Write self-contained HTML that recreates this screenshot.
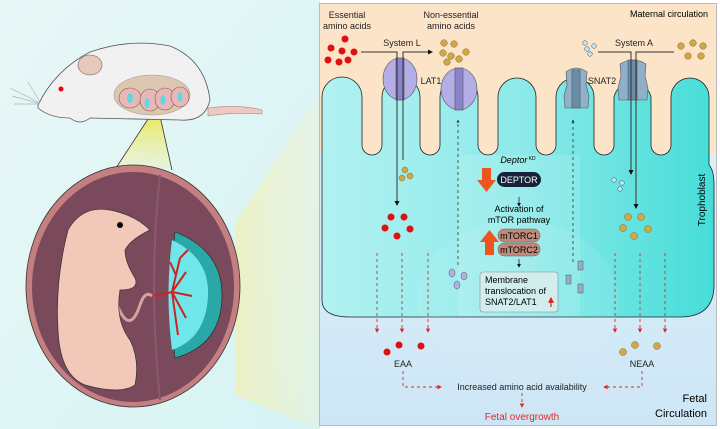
<!DOCTYPE html>
<html><head><meta charset="utf-8"><style>
html,body{margin:0;padding:0;background:#fff}
svg{display:block;font-family:"Liberation Sans",Arial,sans-serif}
</style></head><body>
<svg width="720" height="429" viewBox="0 0 720 429" xmlns="http://www.w3.org/2000/svg">
<defs>
<linearGradient id="lbg" x1="0" y1="0" x2="1" y2="1"><stop offset="0" stop-color="#e9f7f7"/><stop offset="1" stop-color="#d6f3f3"/></linearGradient>
<linearGradient id="beam" x1="0" y1="0" x2="1" y2="0"><stop offset="0" stop-color="#f0f0b8" stop-opacity=".8"/><stop offset="1" stop-color="#f2f0d0" stop-opacity=".35"/></linearGradient>
<linearGradient id="cone" x1="0" y1="0" x2="0" y2="1"><stop offset="0" stop-color="#e8e860"/><stop offset="1" stop-color="#f0f0b0" stop-opacity=".4"/></linearGradient>
<linearGradient id="tro" x1="0" y1="0" x2="1" y2="0"><stop offset="0" stop-color="#b2f1f1"/><stop offset=".5" stop-color="#8eeaea"/><stop offset="1" stop-color="#45ddd8"/></linearGradient>
<linearGradient id="fet" x1="0" y1="0" x2="0" y2="1"><stop offset="0" stop-color="#e6f4fb"/><stop offset="1" stop-color="#cde6f6"/></linearGradient>
<marker id="ab" viewBox="0 0 10 10" refX="8" refY="5" markerWidth="5" markerHeight="5" orient="auto"><path d="M0,0L10,5L0,10z" fill="#111"/></marker>
<marker id="ar" viewBox="0 0 10 10" refX="8" refY="5" markerWidth="5" markerHeight="5" orient="auto"><path d="M0,0L10,5L0,10z" fill="#e02020"/></marker>
<marker id="ad" viewBox="0 0 10 10" refX="8" refY="5" markerWidth="4" markerHeight="4" orient="auto"><path d="M0,0L10,5L0,10z" fill="#333"/></marker>
</defs>
<rect x="0" y="0" width="320" height="429" fill="url(#lbg)"/>
<polygon points="236,222 319,95 319,429 236,395" fill="url(#beam)"/>
<polygon points="150,116 160,116 172,168 116,168" fill="url(#cone)"/>
<line x1="150" y1="116" x2="116" y2="168" stroke="#333" stroke-width=".8"/>
<line x1="160" y1="116" x2="172" y2="170" stroke="#333" stroke-width=".8"/>
<path d="M208,108 Q240,104 262,110 L262,114 Q235,112 208,116z" fill="#efc8c0" stroke="#a88" stroke-width=".6"/>
<path d="M38,105 Q55,70 90,52 Q130,38 170,46 Q205,60 210,100 Q205,122 180,120 L90,118 Q80,126 70,118 Q50,118 38,108z" fill="#f1f1f1" stroke="#555" stroke-width=".8"/>
<ellipse cx="90" cy="65" rx="12" ry="10" fill="#e8c8b8" stroke="#666" stroke-width=".6"/>
<circle cx="61" cy="89" r="2.5" fill="#e00"/>
<g stroke="#777" stroke-width=".4"><line x1="38" y1="102" x2="10" y2="88"/><line x1="38" y1="103" x2="12" y2="96"/><line x1="38" y1="104" x2="14" y2="104"/><line x1="40" y1="102" x2="28" y2="82"/></g>
<ellipse cx="152" cy="95" rx="38" ry="20" fill="#dcc8b0" stroke="#a99" stroke-width=".6"/>
<g fill="#e8b8b8" stroke="#855" stroke-width=".6"><ellipse cx="130" cy="98" rx="11" ry="10"/><ellipse cx="150" cy="100" rx="10" ry="11"/><ellipse cx="165" cy="99" rx="10" ry="11"/><ellipse cx="180" cy="97" rx="9" ry="10"/></g>
<g fill="#5fd8e0"><ellipse cx="130" cy="98" rx="3" ry="5"/><ellipse cx="147" cy="103" rx="2.5" ry="5"/><ellipse cx="163" cy="100" rx="2.5" ry="5"/><ellipse cx="180" cy="97" rx="2.5" ry="5"/></g>
<ellipse cx="133" cy="286" rx="107" ry="121" fill="#c47f80" stroke="#333" stroke-width=".8"/>
<ellipse cx="133" cy="287" rx="101" ry="115" fill="#7a4a5c"/>
<path d="M160,175 Q148,286 160,400" stroke="#8a5a6c" stroke-width="2" fill="none"/>
<path d="M175,232 Q222,250 222,295 Q222,345 175,358 Q168,295 175,232z" fill="#2aa8a8" stroke="#222" stroke-width=".6"/>
<path d="M172,240 Q210,258 208,296 Q206,338 172,350 Q165,295 172,240z" fill="#6ee6ea"/>
<g stroke="#d42020" stroke-width="2" fill="none"><path d="M150,296 Q165,294 172,292 L180,258 M172,292 L186,272 M172,292 L192,296 M172,292 L186,318 M172,292 L178,335 M180,258 L188,250 M176,275 L170,262"/></g>
<path d="M118,307 Q130,335 140,305 Q145,290 152,296" stroke="#d8a0a0" stroke-width="3" fill="none"/>
<path d="M68,230 Q82,205 110,210 Q135,215 150,230 Q130,240 125,250 Q125,262 135,278 Q140,290 120,290 Q115,320 130,340 Q140,360 135,385 Q120,395 85,385 Q60,375 58,330 Q55,280 68,230z" fill="#f2c9b8" stroke="#333" stroke-width=".7"/>
<circle cx="120" cy="225" r="3" fill="#000"/>
<rect x="319.5" y="3.5" width="397" height="422" fill="url(#fet)" stroke="#bbb"/>
<rect x="320" y="4" width="396" height="150" fill="#fbe4c8"/>
<path d="M322,300 L322,97 A19,19 0 0 1 362,97 L362,145 A10,10 0 0 0 382,145 L382,97 A19,19 0 0 1 420,97 L420,145 A10,10 0 0 0 440,145 L440,97 A19,19 0 0 1 478,97 L478,145 A10,10 0 0 0 498,145 L498,97 A19,19 0 0 1 536,97 L536,145 A10,10 0 0 0 556,145 L556,97 A19,19 0 0 1 594,97 L594,145 A10,10 0 0 0 614,145 L614,97 A19,19 0 0 1 651,97 L651,145 A10,10 0 0 0 671,145 L671,97 A19,19 0 0 1 709,97 L709,165 Q714,170 714,185 L714,285 Q714,317 680,317 L350,317 Q322,317 322,300z" fill="url(#tro)" stroke="#222" stroke-width=".8"/>
<rect x="458" y="155" width="122" height="161" fill="#ffffff" opacity=".12"/>
<ellipse cx="518" cy="300" rx="100" ry="80" fill="#ffffff" opacity=".08"/>
<g stroke="#555" stroke-width=".6">
<ellipse cx="400" cy="79" rx="17" ry="21" fill="#b3aee6"/><rect x="396" y="58" width="8" height="42" fill="#8b82cc"/>
<ellipse cx="459" cy="89" rx="18" ry="21" fill="#b3aee6"/><rect x="455" y="68" width="8" height="42" fill="#8b82cc"/>
<path d="M566,72 Q576,64 587,72 L586,85 L589,96 L588,108 L565,108 L564,96 L567,85z" fill="#8fb0c8"/><rect x="572" y="70" width="8" height="38" fill="#6a8ca8"/>
<path d="M620,64 Q633,56 646,64 L645,76 L648,88 L647,100 L619,100 L618,88 L621,76z" fill="#8fb0c8"/><rect x="628" y="60" width="9" height="40" fill="#6a8ca8"/>
</g>
<g stroke="#333" stroke-width="1" fill="none">
<path d="M361,52 L397,52 L397,205" marker-end="url(#ab)"/>
<path d="M403,160 L403,52 L432,52" marker-end="url(#ab)"/>
<path d="M674,52 L636,52 L636,208" marker-end="url(#ab)"/>
<path d="M598,52 L631,52 L631,174" marker-end="url(#ab)"/>
</g>
<g stroke="#333" stroke-width=".8" stroke-dasharray="3,3" fill="none">
<path d="M458,265 L458,120" marker-end="url(#ad)"/><path d="M573,262 L573,120" marker-end="url(#ad)"/>
</g>
<g fill="#e01010"><circle cx="345" cy="39" r="3.5"/><circle cx="331" cy="48" r="3.5"/><circle cx="342" cy="51" r="3.5"/><circle cx="354" cy="52" r="3.5"/><circle cx="328" cy="60" r="3.5"/><circle cx="339" cy="62" r="3.5"/><circle cx="348" cy="60" r="3.5"/>
<circle cx="391" cy="217" r="3.5"/><circle cx="404" cy="217" r="3.5"/><circle cx="385" cy="228" r="3.5"/><circle cx="397" cy="236" r="3.5"/><circle cx="410" cy="229" r="3.5"/>
<circle cx="387" cy="352" r="3.5"/><circle cx="399" cy="345" r="3.5"/><circle cx="421" cy="346" r="3.5"/></g>
<g fill="#cfa84a" stroke="#8a6a20" stroke-width=".5"><circle cx="444" cy="43" r="3.3"/><circle cx="454" cy="44" r="3.3"/><circle cx="443" cy="53" r="3.3"/><circle cx="466" cy="52" r="3.3"/><circle cx="451" cy="56" r="3.3"/><circle cx="447" cy="62" r="3.3"/><circle cx="459" cy="59" r="3.3"/>
<circle cx="681" cy="46" r="3.3"/><circle cx="693" cy="43" r="3.3"/><circle cx="703" cy="46" r="3.3"/><circle cx="688" cy="56" r="3.3"/><circle cx="701" cy="56" r="3.3"/>
<circle cx="405" cy="170" r="3"/><circle cx="402" cy="178" r="3"/><circle cx="410" cy="176" r="3"/>
<circle cx="628" cy="217" r="3.5"/><circle cx="641" cy="217" r="3.5"/><circle cx="623" cy="228" r="3.5"/><circle cx="634" cy="236" r="3.5"/><circle cx="648" cy="229" r="3.5"/>
<circle cx="623" cy="352" r="3.5"/><circle cx="635" cy="345" r="3.5"/><circle cx="657" cy="346" r="3.5"/></g>
<g fill="#bfe4f4" stroke="#356" stroke-width=".5"><circle cx="585" cy="43" r="2.3"/><circle cx="587" cy="49" r="2.3"/><circle cx="594" cy="46" r="2.3"/><circle cx="590" cy="54" r="2.3"/>
<circle cx="614" cy="180" r="2.3"/><circle cx="622" cy="183" r="2.3"/><circle cx="620" cy="189" r="2.3"/></g>
<g fill="#b3aee6" stroke="#555" stroke-width=".5"><ellipse cx="452" cy="273" rx="3" ry="4"/><ellipse cx="464" cy="276" rx="3" ry="4"/><ellipse cx="457" cy="285" rx="3" ry="4"/></g>
<g fill="#8fb0c8" stroke="#555" stroke-width=".5"><rect x="566" y="275" width="5" height="9"/><rect x="578" y="261" width="5" height="9"/><rect x="578" y="284" width="5" height="9"/></g>
<text x="518" y="163" font-size="9" text-anchor="middle"><tspan font-style="italic">Deptor</tspan><tspan font-size="5" dy="-3"> KD</tspan></text>
<rect x="497" y="172" width="44" height="15" rx="7.5" fill="#14233a"/>
<text x="519" y="183" font-size="9" fill="#fff" text-anchor="middle">DEPTOR</text>
<path d="M482,168 L491,168 L491,180 L496,180 L486.5,192 L477,180 L482,180z" fill="#ec5420"/>
<line x1="519" y1="197" x2="519" y2="206" stroke="#222" stroke-width=".8" marker-end="url(#ab)"/>
<text x="519" y="212" font-size="9" text-anchor="middle">Activation of</text>
<text x="519" y="223" font-size="9" text-anchor="middle">mTOR pathway</text>
<rect x="498" y="229" width="42" height="13" rx="6" fill="#c08a7a" stroke="#665" stroke-width=".5"/>
<rect x="498" y="243" width="42" height="13" rx="6" fill="#c08a7a" stroke="#665" stroke-width=".5"/>
<text x="519" y="239" font-size="9" text-anchor="middle">mTORC1</text>
<text x="519" y="253" font-size="9" text-anchor="middle">mTORC2</text>
<path d="M485,255 L494,255 L494,242 L499,242 L489.5,230 L480,242 L485,242z" fill="#ec5420"/>
<line x1="519" y1="259" x2="519" y2="267" stroke="#222" stroke-width=".8" marker-end="url(#ab)"/>
<rect x="480" y="272" width="78" height="40" rx="3" fill="#d2eeec" stroke="#889" stroke-width=".6"/>
<text font-size="9" x="485"><tspan y="283">Membrane</tspan><tspan x="485" y="294">translocation of</tspan><tspan x="485" y="305">SNAT2/LAT1</tspan></text>
<line x1="551" y1="307" x2="551" y2="298" stroke="#d02020" stroke-width="1.2" marker-end="url(#ar)"/>
<g font-size="9" fill="#222" text-anchor="middle">
<text x="347" y="18">Essential</text><text x="347" y="29">amino acids</text>
<text x="451" y="18">Non-essential</text><text x="451" y="29">amino acids</text>
<text x="402" y="46">System L</text><text x="431" y="84">LAT1</text>
<text x="634" y="46">System A</text><text x="602" y="84">SNAT2</text>
<text x="403" y="367">EAA</text><text x="642" y="367">NEAA</text>
<text x="522" y="390">Increased amino acid availability</text>
</g>
<text x="708" y="17" font-size="9" text-anchor="end">Maternal circulation</text>
<text x="705" y="200" font-size="10" text-anchor="middle" transform="rotate(-90 705 200)">Trophoblast</text>
<text x="707" y="402" font-size="11" text-anchor="end">Fetal</text>
<text x="707" y="417" font-size="11" text-anchor="end">Circulation</text>
<text x="522" y="420" font-size="10" fill="#e02828" text-anchor="middle">Fetal overgrowth</text>
<g stroke="#e02828" stroke-width=".9" stroke-dasharray="3,3" fill="none">
<path d="M377,253 L377,332" marker-end="url(#ar)"/><path d="M402,253 L402,332" marker-end="url(#ar)"/><path d="M428,253 L428,332" marker-end="url(#ar)"/>
<path d="M615,253 L615,332" marker-end="url(#ar)"/><path d="M640,253 L640,332" marker-end="url(#ar)"/><path d="M665,253 L665,332" marker-end="url(#ar)"/>
<path d="M403,371 L403,387 L441,387" marker-end="url(#ar)"/>
<path d="M642,371 L642,387 L604,387" marker-end="url(#ar)"/>
<path d="M522,393 L522,407" marker-end="url(#ar)"/>
</g>
</svg>
</body></html>
